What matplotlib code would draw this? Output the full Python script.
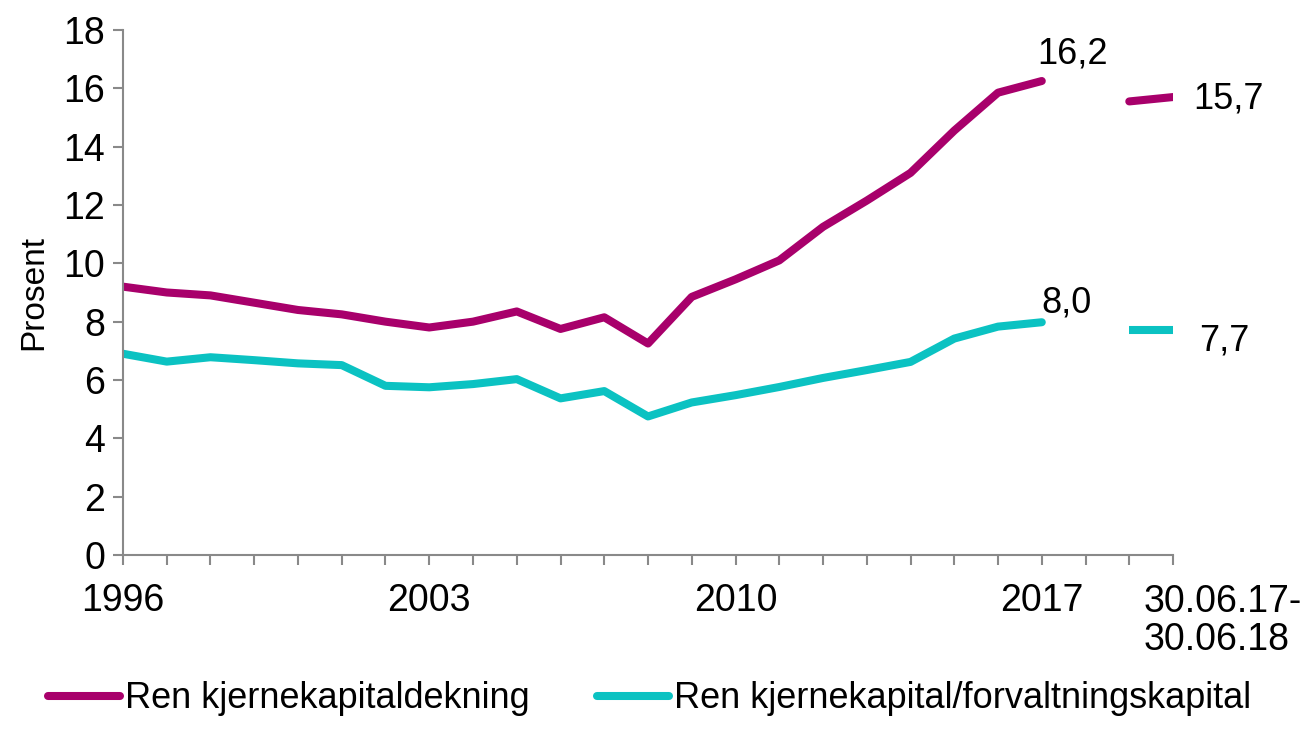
"""
Ren kjernekapital - chart
"""

# IMPORT
import numpy as np
import matplotlib
matplotlib.use('Agg')
import matplotlib.pyplot as plt
from matplotlib.lines import Line2D

plt.rcParams['font.family'] = ['Liberation Sans', 'DejaVu Sans']

# DATA
years = list(range(1996, 2018))
dekning = [9.2, 9.0, 8.9, 8.65, 8.4, 8.25, 8.0, 7.8, 8.0, 8.35, 7.75, 8.15,
           7.25, 8.85, 9.45, 10.1, 11.25, 12.15, 13.1, 14.55, 15.85, 16.25]
forvaltning = [6.9, 6.63, 6.78, 6.68, 6.57, 6.51, 5.8, 5.75, 5.86, 6.03, 5.37, 5.62,
               4.75, 5.23, 5.48, 5.76, 6.07, 6.34, 6.62, 7.42, 7.83, 7.98]
# last 12 months (30.06.17 - 30.06.18)
dekning_12m = [15.55, 15.7]
forvaltning_12m = [7.7, 7.7]
label_12m = '30.06.17-\n30.06.18'
tick_years = [1996, 2003, 2010, 2017]
series_names = ['Ren kjernekapitaldekning', 'Ren kjernekapital/forvaltningskapital']

col_mag = '#A8006B'
col_teal = '#0BC2C2'
grey = '#898989'

def fmt(v):
    return f'{v:.1f}'.replace('.', ',')

# PLOT
fig = plt.figure(figsize=(13.07, 7.49), dpi=100)
ax = fig.add_axes([0.0941, 0.259, 0.8034, 0.701])

x = np.array(years) - years[0]
x12 = [len(years) + 1, len(years) + 2]

ax.plot(x, dekning, color=col_mag, lw=5.8, solid_capstyle='round', solid_joinstyle='round')
ax.plot(x, forvaltning, color=col_teal, lw=5.8, solid_capstyle='round', solid_joinstyle='round')
ax.plot(x12, dekning_12m, color=col_mag, lw=5.8, solid_capstyle='round')
ax.plot(x12, forvaltning_12m, color=col_teal, lw=5.8, solid_capstyle='butt')

ax.set_xlim(0, x12[-1])
ax.set_ylim(0, 18)
ax.set_yticks(np.arange(0, 19, 2))
ax.set_xticks(np.arange(0, x12[-1] + 1))
ax.set_xticklabels([str(years[0] + i) if (years[0] + i) in tick_years else '' for i in range(x12[-1] + 1)])

for s in ['top', 'right']:
    ax.spines[s].set_visible(False)
for s in ['left', 'bottom']:
    ax.spines[s].set_color(grey)
    ax.spines[s].set_linewidth(1.5)
ax.tick_params(axis='both', colors=grey, width=1.5, length=7, labelcolor='black', labelsize=27)
ax.tick_params(axis='x', pad=13)
ax.tick_params(axis='y', pad=6)
ax.set_ylabel('Prosent', fontsize=24, labelpad=10)

# last period label, right of the axis end
ax.text(x12[-1] - 0.67, -1.0, label_12m, ha='left', va='top', fontsize=27,
        linespacing=1.05, clip_on=False)

# value labels
ax.text(x[-1] - 0.1, dekning[-1] + 0.6, fmt(dekning[-1]),
        ha='left', va='baseline', fontsize=26)
ax.text(x[-1] + 0.0, forvaltning[-1] + 0.35, fmt(forvaltning[-1]),
        ha='left', va='baseline', fontsize=26)
ax.text(x12[-1] + 0.47, dekning_12m[-1] - 0.4, fmt(dekning_12m[-1]),
        ha='left', va='baseline', fontsize=26, clip_on=False)
ax.text(x12[-1] + 0.6, forvaltning_12m[-1] - 0.7, fmt(forvaltning_12m[-1]),
        ha='left', va='baseline', fontsize=26, clip_on=False)

handles = [Line2D([0], [0], color=col_mag, lw=5.8, solid_capstyle='round'),
           Line2D([0], [0], color=col_teal, lw=5.8, solid_capstyle='round')]
fig.legend(handles, series_names, loc='center', bbox_to_anchor=(0.497, 0.067), ncol=2,
           frameon=False, fontsize=26, handlelength=2.0, handletextpad=0.14,
           columnspacing=1.85, borderpad=0.2)

plt.savefig('out.png', dpi=100)
